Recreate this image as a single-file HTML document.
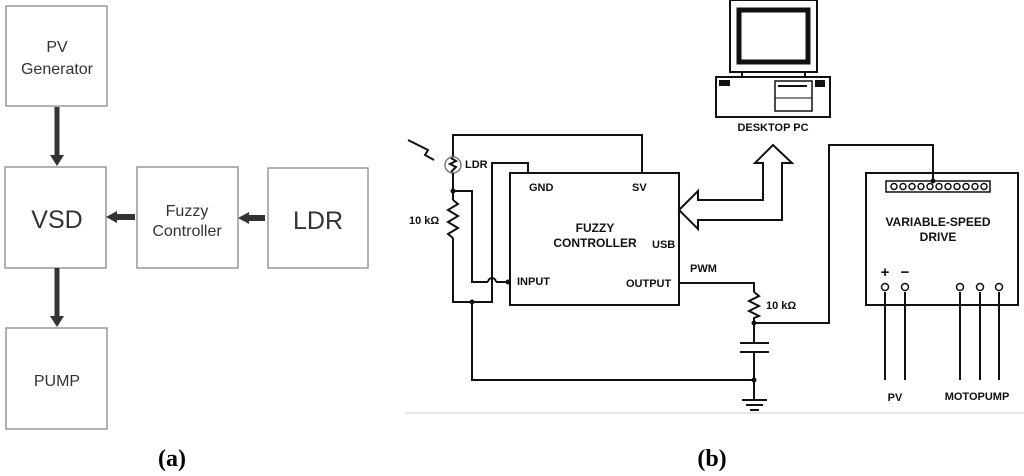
<!DOCTYPE html>
<html><head><meta charset="utf-8"><style>
html,body{margin:0;padding:0;background:#fff;width:1024px;height:476px;overflow:hidden}
svg{display:block}
</style></head><body>
<svg width="1024" height="476" viewBox="0 0 1024 476" xmlns="http://www.w3.org/2000/svg">
<g fill="#fff" stroke="#999" stroke-width="1.5">
<rect x="6" y="6" width="101" height="100"/>
<rect x="5" y="167" width="101" height="101"/>
<rect x="137" y="167" width="101" height="101"/>
<rect x="268" y="168" width="100" height="100"/>
<rect x="6" y="328" width="101" height="101"/>
</g>
<g font-family="Liberation Sans, sans-serif" fill="#333" text-anchor="middle">
<text x="57" y="52" font-size="16">PV</text>
<text x="57" y="74" font-size="16">Generator</text>
<text x="57" y="228" font-size="25">VSD</text>
<text x="187" y="216" font-size="16">Fuzzy</text>
<text x="187" y="236" font-size="16">Controller</text>
<text x="318" y="229" font-size="25">LDR</text>
<text x="57" y="386" font-size="16">PUMP</text>
</g>
<g fill="#333" stroke="#333">
<line x1="57" y1="107" x2="57" y2="156" stroke-width="5"/>
<polygon points="50,155 64,155 57,166" stroke="none"/>
<line x1="57" y1="268" x2="57" y2="317" stroke-width="5"/>
<polygon points="50,316 64,316 57,327" stroke="none"/>
<line x1="135" y1="217" x2="116" y2="217" stroke-width="6"/>
<polygon points="117,211 117,223 106,217" stroke="none"/>
<line x1="265" y1="218" x2="248" y2="218" stroke-width="6"/>
<polygon points="249,212 249,224 238,218" stroke="none"/>
</g>
<g font-family="Liberation Serif, serif" font-weight="bold" font-size="24" fill="#000" text-anchor="middle">
<text x="172" y="466">(a)</text>
<text x="712" y="466">(b)</text>
</g>
<line x1="405" y1="413" x2="1024" y2="413" stroke="#ddd" stroke-width="1.5"/>
<g fill="none" stroke="#111" stroke-width="2">
<polyline points="453,157 453,135 642,135 642,173"/>
<circle cx="453" cy="165" r="8" stroke="#777" stroke-width="1.5"/>
<polyline points="451,158 456,161 450,164 456,167 451,172"/>
<polyline points="408,140 428,150 425,155 434,160"/>
<line x1="453" y1="173" x2="453" y2="200"/>
<polyline points="453,200 458,204 448,210 458,216 448,222 458,228 448,234 453,238"/>
<polyline points="453,238 453,302 492,302 492,163 528,163 528,173"/>
<polyline points="453,191 472,191 472,282 488,282"/>
<path d="M488,282 a4,4 0 0 1 8,0"/>
<line x1="496" y1="282" x2="510" y2="282"/>
<polyline points="472,302 472,380 754,380"/>
<rect x="510" y="173" width="169" height="132"/>
<polyline points="679,283 754,283 754,292"/>
<polyline points="754,292 759,296 749,301 759,306 749,311 759,316 754,318 754,343"/>
<line x1="740" y1="343" x2="769" y2="343"/>
<line x1="740" y1="352" x2="769" y2="352"/>
<line x1="754" y1="352" x2="754" y2="400"/>
<line x1="742" y1="400" x2="767" y2="400"/>
<line x1="746" y1="405" x2="763" y2="405"/>
<line x1="750" y1="410" x2="759" y2="410"/>
<polyline points="754,323 829,323 829,145 933,145 933,183"/>
<rect x="866" y="173" width="152" height="132"/>
<rect x="886" y="181" width="104" height="11" stroke-width="1.5"/>
<polygon points="679,210 698,191 698,200 763,200 763,163 755,163 773,145 792,163 782,163 782,220 698,220 698,229" stroke-width="2"/>
<rect x="730" y="0" width="87" height="72"/>
<rect x="739" y="10" width="69" height="52" stroke-width="5"/>
<line x1="742" y1="72" x2="742" y2="77"/>
<line x1="805" y1="72" x2="805" y2="77"/>
<rect x="716" y="77" width="114" height="40"/>
<rect x="775" y="81" width="37" height="30" stroke-width="1.5"/>
<line x1="778" y1="86" x2="807" y2="86" stroke-width="2"/>
<line x1="775" y1="98" x2="812" y2="98" stroke-width="1"/>
<rect x="720" y="81" width="9" height="4" fill="#111"/>
<rect x="816" y="81" width="8" height="5" fill="#111"/>
<line x1="885" y1="292" x2="885" y2="380"/>
<line x1="905" y1="292" x2="905" y2="380"/>
<line x1="960" y1="292" x2="960" y2="380"/>
<line x1="980" y1="292" x2="980" y2="380"/>
<line x1="999" y1="292" x2="999" y2="380"/>
</g>
<g fill="#fff" stroke="#111" stroke-width="1.5">
<circle cx="885" cy="287" r="3.5"/><circle cx="905" cy="287" r="3.5"/>
<circle cx="960" cy="287" r="3.5"/><circle cx="980" cy="287" r="3.5"/><circle cx="999" cy="287" r="3.5"/>
<circle cx="894" cy="186.5" r="3"/><circle cx="903" cy="186.5" r="3"/><circle cx="912" cy="186.5" r="3"/><circle cx="921" cy="186.5" r="3"/><circle cx="930" cy="186.5" r="3"/><circle cx="939" cy="186.5" r="3"/><circle cx="948" cy="186.5" r="3"/><circle cx="957" cy="186.5" r="3"/><circle cx="966" cy="186.5" r="3"/><circle cx="975" cy="186.5" r="3"/><circle cx="984" cy="186.5" r="3"/>
</g>
<g fill="#111">
<circle cx="453" cy="191" r="2.5"/><circle cx="472" cy="302" r="2.5"/><circle cx="508" cy="282" r="2.5"/>
<circle cx="754" cy="323" r="2.5"/><circle cx="754" cy="380" r="2.5"/><circle cx="933" cy="181" r="2.5"/>
</g>
<g font-family="Liberation Sans, sans-serif" font-weight="bold" font-size="11" fill="#111">
<text x="465" y="168">LDR</text>
<text x="409" y="224">10 kΩ</text>
<text x="529" y="191">GND</text>
<text x="632" y="191">SV</text>
<text x="595" y="232" text-anchor="middle" font-size="12">FUZZY</text>
<text x="595" y="247" text-anchor="middle" font-size="12">CONTROLLER</text>
<text x="652" y="248">USB</text>
<text x="517" y="285">INPUT</text>
<text x="626" y="287">OUTPUT</text>
<text x="690" y="272">PWM</text>
<text x="766" y="309">10 kΩ</text>
<text x="773" y="131" text-anchor="middle">DESKTOP PC</text>
<text x="938" y="226" text-anchor="middle" font-size="12">VARIABLE-SPEED</text>
<text x="938" y="241" text-anchor="middle" font-size="12">DRIVE</text>
<text x="885" y="277" text-anchor="middle" font-size="15">+</text>
<text x="905" y="277" text-anchor="middle" font-size="15">−</text>
<text x="895" y="401" text-anchor="middle">PV</text>
<text x="977" y="400" text-anchor="middle">MOTOPUMP</text>
</g>
</svg>
</body></html>
